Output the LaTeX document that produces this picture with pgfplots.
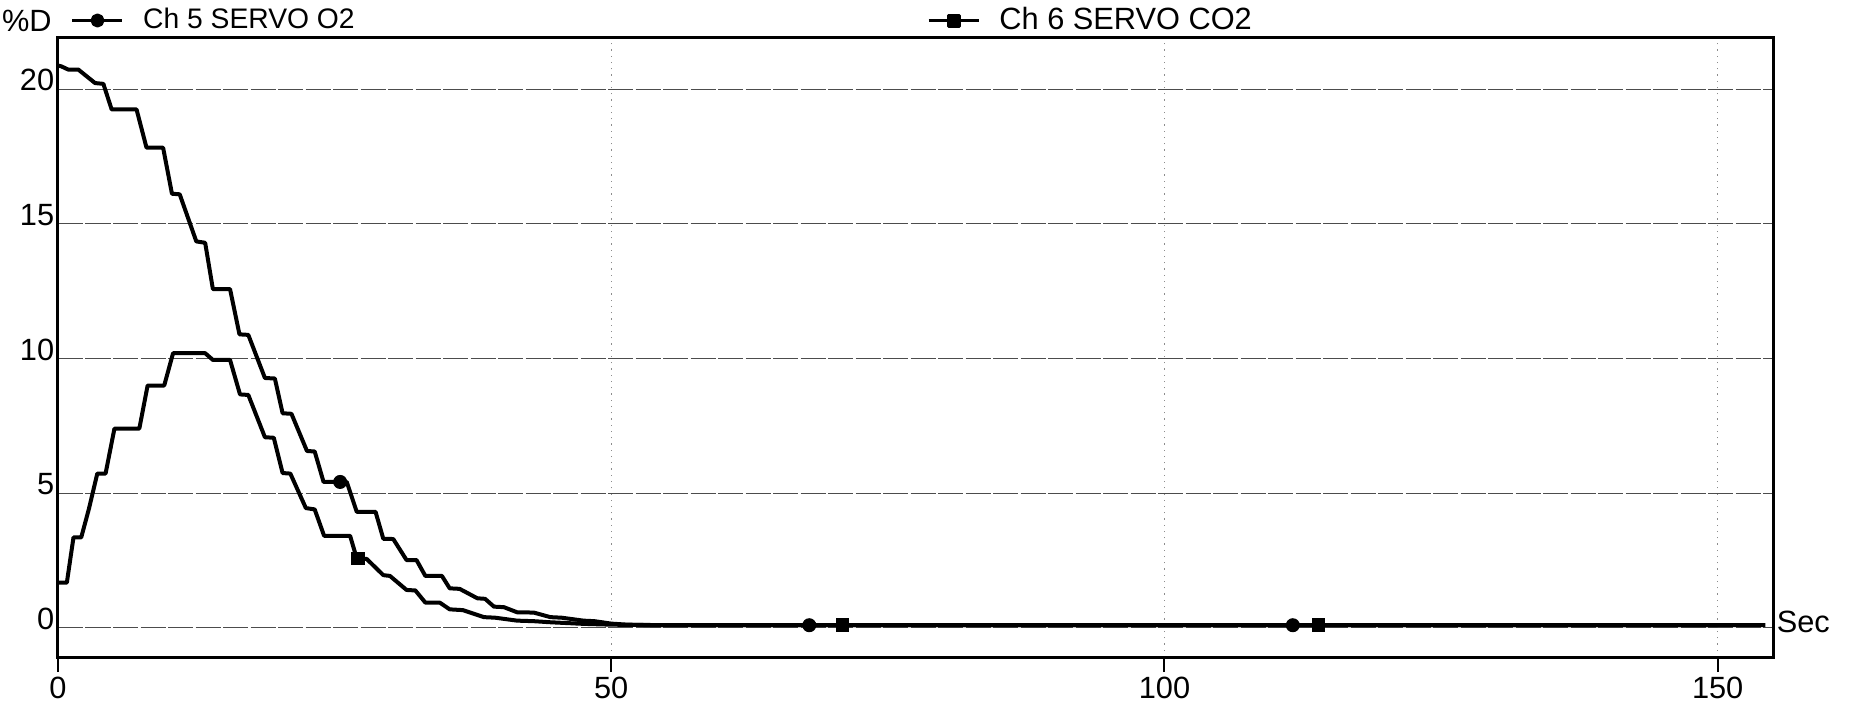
\documentclass[border=0pt]{standalone}
\usepackage{fontspec}
\setmainfont{Liberation Sans}
\usepackage{pgfplots}
\pgfplotsset{compat=1.18}
\begin{document}
\begin{tikzpicture}
\useasboundingbox (-23.2pt,-18.8pt) rectangle (717.2pt,262.8pt);
\begin{axis}[
  scale only axis, width=686pt, height=248pt,
  xmin=0, xmax=155, ymin=-1.08, ymax=21.94,
  xtick={0,50,100,150}, ytick={0,5,10,15,20},
  font=\fontsize{12.3}{14}\selectfont,
  /pgf/number format/assume math mode=true,
  tick align=outside,
  xtick pos=bottom, ytick pos=left,
  major tick length=6pt,
  xtick style={black, line width=0.8pt},
  ytick style={draw=none},
  y tick label style={yshift=3.6pt, xshift=8pt},
  x tick label style={yshift=1.6pt},
  ymajorgrids, xmajorgrids,
  y grid style={black!70, line width=0.45pt, dash pattern=on 10pt off 1pt},
  x grid style={black!45, line width=0.5pt, dotted},
  axis line style={line width=1.2pt},
  every axis y label/.style={at={(rel axis cs:0,1)}, anchor=base east, xshift=1pt, yshift=2.4pt},
  ylabel={\%D},
  every axis x label/.style={at={(rel axis cs:1,0.0566)}, anchor=west, xshift=-2pt},
  xlabel={Sec},
  legend columns=2,
  legend style={at={(rel axis cs:0,1)}, anchor=west, xshift=5pt, yshift=6.6pt, draw=none, fill=none, inner sep=0pt,
    /tikz/every odd column/.append style={column sep=5.7pt},
    /tikz/every even column/.append style={column sep=227pt}},
  legend image code/.code={\draw[#1, line width=1.2pt] (0pt,0pt) -- (20pt,0pt); \draw[#1, line width=1.2pt, mark repeat=1, mark phase=1] plot coordinates {(10pt,0pt)};},
]
\addplot[black, line width=1.6pt, line join=round, mark=*, mark size=2.2pt, mark options={solid}, mark repeat=1000, mark phase=1000] coordinates {
(0,20.88) (0.3,20.85) (0.93,20.73) (1.84,20.73) (3.35,20.23) (4.1,20.2) (4.85,19.25) (7.1,19.25) (8.0,17.83) (9.5,17.83) (10.3,16.12) (11.0,16.1) (12.5,14.35) (13.3,14.3) (14.0,12.58) (15.55,12.58) (16.4,10.9) (17.2,10.88) (18.7,9.28) (19.6,9.26) (20.3,7.97) (21.1,7.95) (22.5,6.57) (23.2,6.55) (24.0,5.42) (26.1,5.42) (27.0,4.31) (28.7,4.31) (29.4,3.31) (30.3,3.3) (31.5,2.52) (32.4,2.52) (33.2,1.93) (34.7,1.93) (35.4,1.47) (36.3,1.45) (37.9,1.10) (38.6,1.08) (39.4,0.79) (40.3,0.77) (41.5,0.58) (43.0,0.57) (44.5,0.40) (45.5,0.38) (47.5,0.27) (48.5,0.25) (50,0.16) (51.5,0.12) (55,0.1) (154.3,0.1)
};
\addlegendentry{\fontsize{11.3}{13}\selectfont Ch 5 SERVO O2}
\addplot[black, line width=1.6pt, line join=round, mark=square*, mark size=2.2pt, mark options={solid}, mark repeat=1000, mark phase=1000] coordinates {
(0,1.68) (0.8,1.68) (1.4,3.36) (2.1,3.36) (2.8,4.43) (3.55,5.73) (4.3,5.73) (5.1,7.40) (7.35,7.40) (8.1,9.0) (9.6,9.0) (10.4,10.2) (13.3,10.2) (14.0,9.95) (15.55,9.95) (16.45,8.67) (17.2,8.65) (18.7,7.08) (19.5,7.06) (20.3,5.75) (21.0,5.73) (22.4,4.45) (23.2,4.4) (24.05,3.42) (26.4,3.42) (27.0,2.58) (27.9,2.56) (29.4,1.96) (30.0,1.93) (31.5,1.41) (32.3,1.39) (33.2,0.94) (34.5,0.94) (35.4,0.69) (36.6,0.66) (38.5,0.40) (39.5,0.38) (41.5,0.27) (43,0.25) (44.5,0.21) (47.5,0.15) (50,0.12) (55,0.1) (150,0.1)
};
\addlegendentry{Ch 6 SERVO CO2}
\addplot[forget plot, only marks, black, mark=*, mark size=2.6pt] coordinates {(25.5,5.42) (67.9,0.1) (111.6,0.1)};
\addplot[forget plot, only marks, black, mark=square*, mark size=2.5pt] coordinates {(27.1,2.58) (70.9,0.1) (113.9,0.1)};
\end{axis}
\end{tikzpicture}
\end{document}
